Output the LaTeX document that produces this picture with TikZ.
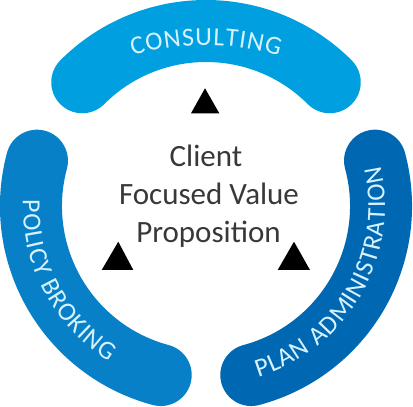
\documentclass[tikz,border=0pt]{standalone}
\usepackage{fontspec}
\setmainfont{Carlito}
\usetikzlibrary{decorations.text}
\definecolor{topblue}{HTML}{009FDF}
\definecolor{leftblue}{HTML}{0880C8}
\definecolor{rightblue}{HTML}{0068B2}
\definecolor{labelc}{HTML}{D6F2FF}
\definecolor{centerc}{HTML}{383838}
\newcommand\arcfont{\fontsize{26}{26}\selectfont}
\tikzset{
  band/.style={line width=62pt, line cap=round},
  arclabel/.style={decorate, decoration={text along path, text align={fit to path}, text color=labelc, text={#1}}},
  centertext/.style={anchor=base, inner sep=0pt, text=centerc, font=\fontsize{31}{31}\selectfont},
  tri/.style={fill=black}
}
\begin{document}
\begin{tikzpicture}[x=1pt,y=1pt]
\useasboundingbox (0,0) rectangle (413,407);
\coordinate (c) at (206,201);
\coordinate (ct) at (206,112);
% bands
\draw[band, topblue] ([shift={(135:175pt)}]c) arc[start angle=135, end angle=45, radius=175pt];
\draw[band, leftblue] ([shift={(165:175pt)}]c) arc[start angle=165, end angle=255, radius=175pt];
\draw[band, rightblue] ([shift={(285:175pt)}]c) arc[start angle=285, end angle=375, radius=175pt];
% labels
\arcfont
\path[arclabel=CONSULTING] ([shift={(107:250pt)}]ct) arc[start angle=107, end angle=73, radius=250pt];
\path[arclabel=POLICY BROKING] ([shift={(178:183pt)}]c) arc[start angle=178, end angle=238, radius=183pt];
\path[arclabel=PLAN ADMINISTRATION] ([shift={(287:179pt)}]c) arc[start angle=287, end angle=373, radius=179pt];
% center text
\node[centertext] (l1) at (206,240) {Client};
\node[centertext] (l2) at (209,202) {Focused Value};
\node[centertext] (l3) at (208.5,164) {Proposition};
% triangles
\fill[tri] (205,318.7) -- (191,293.7) -- (219.3,293.7) -- cycle;
\fill[tri] (118.3,165.3) -- (101.7,137) -- (133.3,137) -- cycle;
\fill[tri] (294,165.3) -- (277.7,137) -- (310,137) -- cycle;
\end{tikzpicture}
\end{document}
